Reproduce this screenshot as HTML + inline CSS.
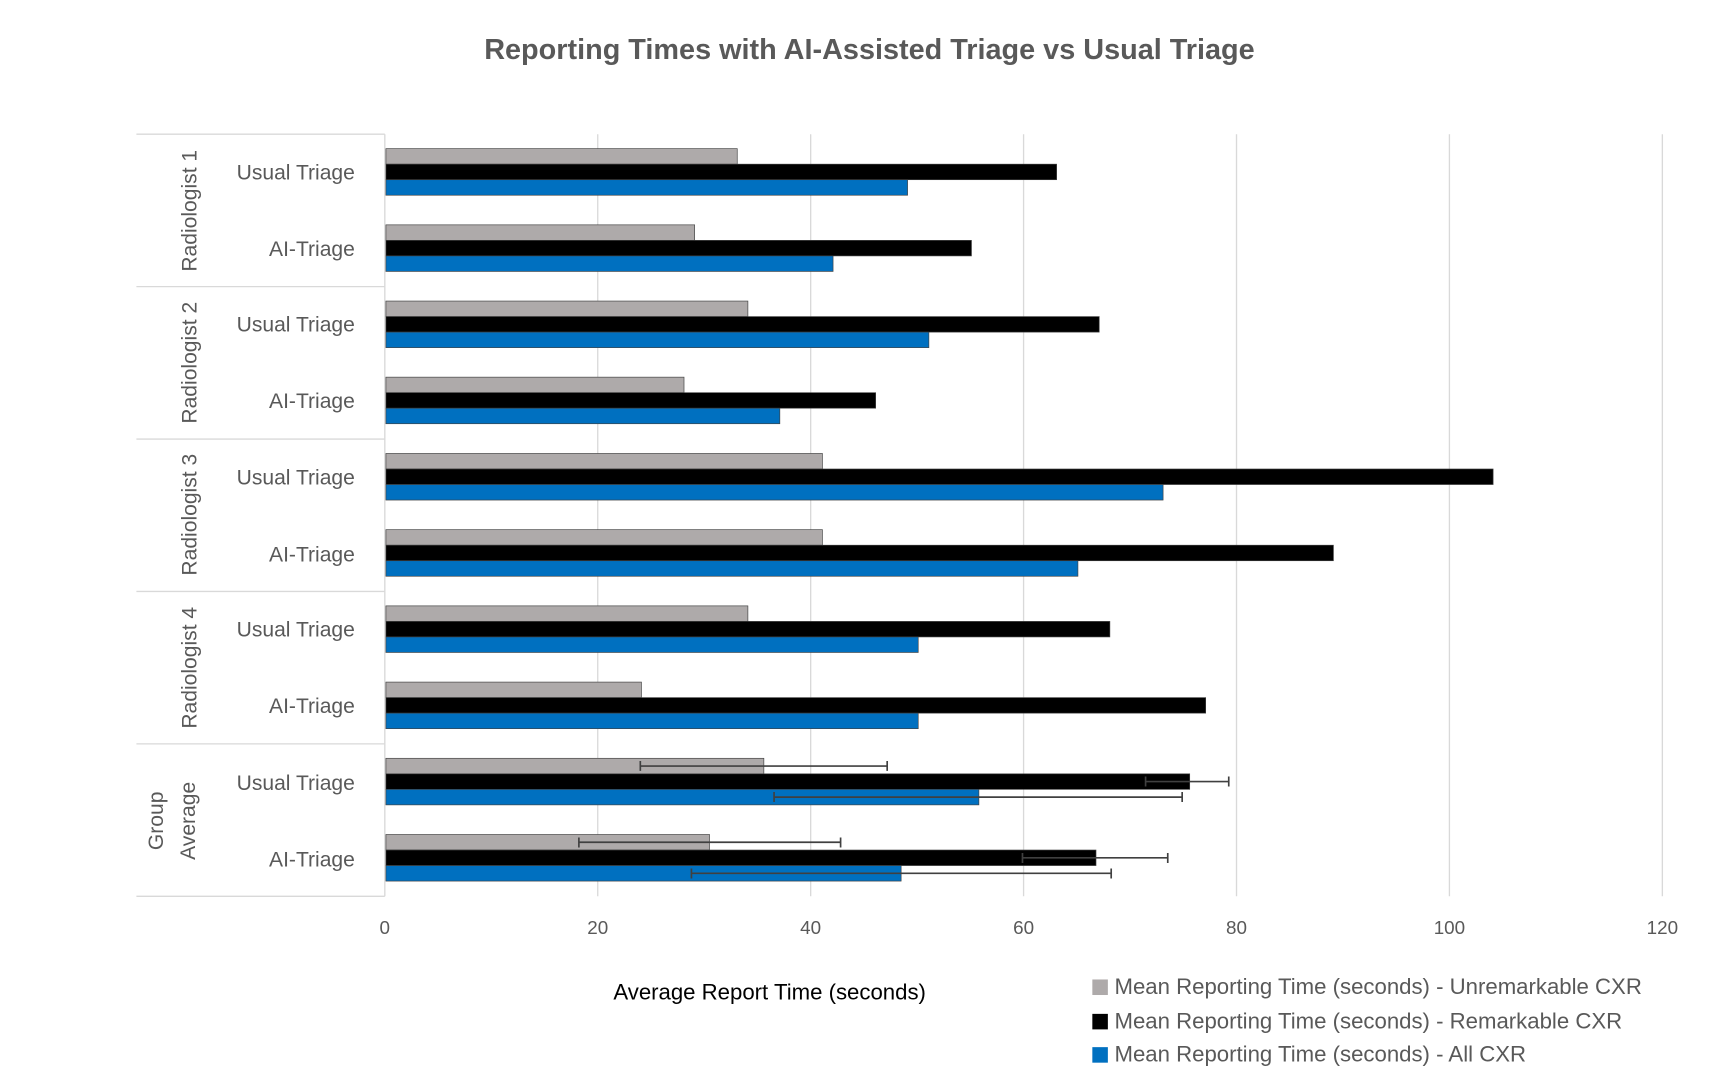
<!DOCTYPE html>
<html><head><meta charset="utf-8"><style>
html,body{margin:0;padding:0;background:#fff;}
svg{display:block;}
text{font-family:"Liberation Sans",sans-serif;}
</style></head><body>
<svg width="1730" height="1066" viewBox="0 0 1560 961" preserveAspectRatio="none" xmlns="http://www.w3.org/2000/svg">
<rect width="1560" height="961" fill="#fff"/>
<text x="784" y="53" text-anchor="middle" font-size="26" font-weight="bold" fill="#595959">Reporting Times with AI-Assisted Triage vs Usual Triage</text>
<g stroke="#d9d9d9" stroke-width="1.2">
<line x1="539" y1="121" x2="539" y2="808"/><line x1="731" y1="121" x2="731" y2="808"/>
<line x1="923" y1="121" x2="923" y2="808"/><line x1="1115" y1="121" x2="1115" y2="808"/>
<line x1="1307" y1="121" x2="1307" y2="808"/><line x1="1499" y1="121" x2="1499" y2="808"/>
<line x1="347" y1="121" x2="347" y2="808"/>
<line x1="123" y1="121" x2="347" y2="121"/><line x1="123" y1="258.4" x2="347" y2="258.4"/>
<line x1="123" y1="395.8" x2="347" y2="395.8"/><line x1="123" y1="533.2" x2="347" y2="533.2"/>
<line x1="123" y1="670.6" x2="347" y2="670.6"/><line x1="123" y1="808" x2="347" y2="808"/>
</g>
<g stroke="#404040" stroke-width="0.6">
<rect x="348" y="134" width="316.8" height="14" fill="#aeaaaa"/><rect x="348" y="148" width="604.8" height="14" fill="#000"/><rect x="348" y="162" width="470.4" height="14" fill="#0070c0"/>
<rect x="348" y="202.7" width="278.4" height="14" fill="#aeaaaa"/><rect x="348" y="216.7" width="528" height="14" fill="#000"/><rect x="348" y="230.7" width="403.2" height="14" fill="#0070c0"/>
<rect x="348" y="271.4" width="326.4" height="14" fill="#aeaaaa"/><rect x="348" y="285.4" width="643.2" height="14" fill="#000"/><rect x="348" y="299.4" width="489.6" height="14" fill="#0070c0"/>
<rect x="348" y="340" width="268.8" height="14" fill="#aeaaaa"/><rect x="348" y="354" width="441.6" height="14" fill="#000"/><rect x="348" y="368" width="355.2" height="14" fill="#0070c0"/>
<rect x="348" y="408.8" width="393.6" height="14" fill="#aeaaaa"/><rect x="348" y="422.8" width="998.4" height="14" fill="#000"/><rect x="348" y="436.8" width="700.8" height="14" fill="#0070c0"/>
<rect x="348" y="477.5" width="393.6" height="14" fill="#aeaaaa"/><rect x="348" y="491.5" width="854.4" height="14" fill="#000"/><rect x="348" y="505.5" width="624" height="14" fill="#0070c0"/>
<rect x="348" y="546.2" width="326.4" height="14" fill="#aeaaaa"/><rect x="348" y="560.2" width="652.8" height="14" fill="#000"/><rect x="348" y="574.2" width="480" height="14" fill="#0070c0"/>
<rect x="348" y="614.9" width="230.4" height="14" fill="#aeaaaa"/><rect x="348" y="628.9" width="739.2" height="14" fill="#000"/><rect x="348" y="642.9" width="480" height="14" fill="#0070c0"/>
<rect x="348" y="683.6" width="340.8" height="14" fill="#aeaaaa"/><rect x="348" y="697.6" width="724.8" height="14" fill="#000"/><rect x="348" y="711.6" width="534.7" height="14" fill="#0070c0"/>
<rect x="348" y="752.3" width="291.8" height="14" fill="#aeaaaa"/><rect x="348" y="766.3" width="640.3" height="14" fill="#000"/><rect x="348" y="780.3" width="464.6" height="14" fill="#0070c0"/>
</g>
<g stroke="#404040" stroke-width="1.5" fill="none">
<path d="M577.4 690.6H800M577.4 686v9M800 686v9"/>
<path d="M1033 704.6H1108M1033 700v9M1108 700v9"/>
<path d="M698 718.6H1066M698 714v9M1066 714v9"/>
<path d="M522 759.3H758M522 755v9M758 755v9"/>
<path d="M922 773.3H1053M922 769v9M1053 769v9"/>
<path d="M623.5 787.3H1002M623.5 783v9M1002 783v9"/>
</g>
<g font-size="19" fill="#595959" text-anchor="end">
<text x="320" y="162">Usual Triage</text><text x="320" y="231">AI-Triage</text>
<text x="320" y="299">Usual Triage</text><text x="320" y="368">AI-Triage</text>
<text x="320" y="437">Usual Triage</text><text x="320" y="506">AI-Triage</text>
<text x="320" y="574">Usual Triage</text><text x="320" y="643">AI-Triage</text>
<text x="320" y="712">Usual Triage</text><text x="320" y="781">AI-Triage</text>
</g>
<g font-size="19" fill="#595959" text-anchor="middle">
<text transform="translate(177,190) rotate(-90)">Radiologist 1</text>
<text transform="translate(177,327) rotate(-90)">Radiologist 2</text>
<text transform="translate(177,464) rotate(-90)">Radiologist 3</text>
<text transform="translate(177,602) rotate(-90)">Radiologist 4</text>
<text transform="translate(147,740) rotate(-90)">Group</text>
<text transform="translate(176,740) rotate(-90)">Average</text>
</g>
<g font-size="17" fill="#595959" text-anchor="middle">
<text x="347" y="842">0</text><text x="539" y="842">20</text><text x="731" y="842">40</text>
<text x="923" y="842">60</text><text x="1115" y="842">80</text><text x="1307" y="842">100</text><text x="1499" y="842">120</text>
</g>
<text x="694" y="901" text-anchor="middle" font-size="20" fill="#000">Average Report Time (seconds)</text>
<rect x="985" y="883" width="14" height="14" fill="#aeaaaa"/>
<rect x="985" y="914" width="14" height="14" fill="#000"/>
<rect x="985" y="944" width="14" height="14" fill="#0070c0"/>
<g font-size="20" fill="#595959">
<text x="1005" y="896">Mean Reporting Time (seconds) - Unremarkable CXR</text>
<text x="1005" y="927">Mean Reporting Time (seconds) - Remarkable CXR</text>
<text x="1005" y="957">Mean Reporting Time (seconds) - All CXR</text>
</g>
</svg>
</body></html>
